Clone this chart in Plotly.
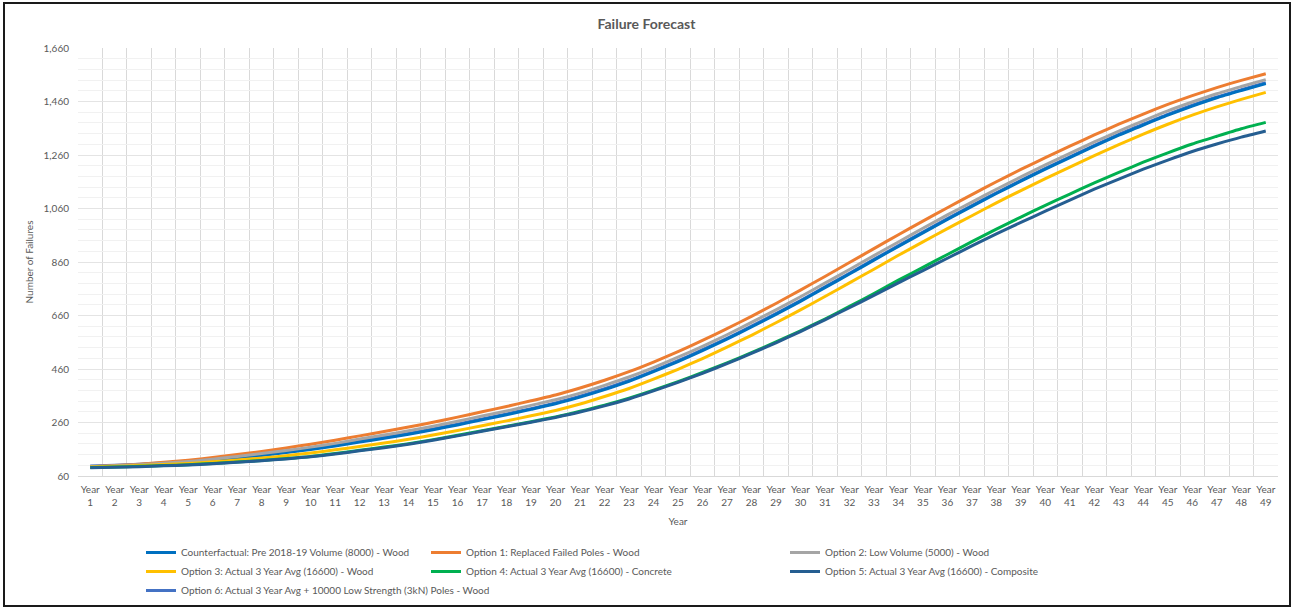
import plotly.graph_objects as go

# ---- data -------------------------------------------------------------
years = list(range(1, 50))
year_labels = [f"Year<br>{y}" for y in years]

counterfactual = [
    94, 97, 101, 106, 111, 119, 128, 137, 148, 159,
    172, 187, 201, 216, 233, 251, 270, 289, 309, 330,
    355, 383, 414, 450, 488, 529, 572, 617, 664, 713,
    764, 815, 867, 918, 969, 1019, 1068, 1116, 1162, 1207,
    1250, 1293, 1334, 1372, 1409, 1443, 1474, 1501, 1527,
]
option1 = [
    95, 99, 104, 111, 119, 129, 140, 152, 165, 179,
    194, 210, 226, 243, 261, 280, 300, 320, 341, 363,
    389, 418, 450, 486, 525, 567, 611, 657, 705, 755,
    806, 858, 910, 962, 1013, 1063, 1112, 1160, 1206, 1250,
    1293, 1335, 1375, 1413, 1449, 1482, 1512, 1539, 1564,
]
option2 = [
    95, 98, 102, 108, 114, 123, 133, 144, 155, 168,
    182, 198, 213, 229, 246, 265, 284, 303, 324, 345,
    370, 399, 430, 465, 504, 545, 588, 634, 681, 730,
    781, 832, 884, 935, 986, 1036, 1084, 1132, 1178, 1223,
    1266, 1309, 1349, 1388, 1425, 1458, 1489, 1516, 1542,
]
option3 = [
    94, 96, 99, 103, 107, 113, 120, 127, 136, 146,
    158, 170, 183, 197, 213, 230, 248, 266, 285, 305,
    329, 357, 387, 422, 459, 499, 542, 586, 633, 681,
    731, 782, 833, 885, 935, 985, 1033, 1081, 1127, 1172,
    1215, 1258, 1299, 1338, 1375, 1409, 1440, 1468, 1494,
]
option4 = [
    92, 94, 96, 99, 102, 107, 112, 118, 125, 133,
    144, 156, 168, 181, 196, 212, 229, 246, 263, 281,
    302, 325, 351, 381, 413, 447, 483, 521, 561, 603,
    647, 694, 742, 792, 840, 888, 936, 983, 1028, 1072,
    1114, 1156, 1195, 1233, 1268, 1301, 1330, 1358, 1382,
]
option5 = [
    91, 93, 95, 98, 101, 106, 111, 117, 124, 132,
    142, 154, 166, 179, 194, 210, 227, 244, 261, 279,
    299, 322, 348, 378, 410, 444, 480, 518, 558, 600,
    644, 689, 735, 782, 828, 874, 920, 965, 1008, 1050,
    1091, 1132, 1170, 1207, 1241, 1273, 1301, 1327, 1350,
]
option6 = [
    97, 100, 104, 109, 114, 122, 131, 140, 151, 162,
    175, 190, 204, 219, 236, 254, 273, 292, 312, 333,
    358, 386, 417, 453, 491, 532, 575, 620, 667, 716,
    767, 818, 870, 921, 972, 1022, 1071, 1119, 1165, 1210,
    1253, 1296, 1337, 1375, 1412, 1446, 1477, 1504, 1530,
]

# name, values, colour, legend column, order inside legend column
series = [
    ("Option 6: Actual 3 Year Avg + 10000 Low Strength (3kN) Poles - Wood", option6, "#4472C4", "legend", 3),
    ("Counterfactual: Pre 2018-19 Volume (8000) - Wood", counterfactual, "#0070C0", "legend", 1),
    ("Option 1: Replaced Failed Poles - Wood", option1, "#ED7D31", "legend2", 1),
    ("Option 2: Low Volume (5000) - Wood", option2, "#A5A5A5", "legend3", 1),
    ("Option 3: Actual 3 Year Avg (16600) - Wood", option3, "#FFC000", "legend", 2),
    ("Option 4: Actual 3 Year Avg (16600) - Concrete", option4, "#00B050", "legend2", 2),
    ("Option 5: Actual 3 Year Avg (16600) - Composite", option5, "#255E91", "legend3", 2),
]

y_ticks = [60, 260, 460, 660, 860, 1060, 1260, 1460, 1660]

TEXT = "#595959"
FONT = "Lato"

fig = go.Figure()
for name, vals, colour, leg, rank in series:
    fig.add_trace(go.Scatter(
        x=years, y=vals, name=name, mode="lines",
        line=dict(color=colour, width=3, shape="spline", smoothing=0.6),
        legend=leg, legendrank=rank,
    ))

# plot area: x 78..1278, y 48..476
W, H = 1293, 608
L, R, T, B = 78, 15, 48, 132
pw, ph = W - L - R, H - T - B


def px_x(p):
    return (p - L) / pw


def px_y(p):
    return (H - B - p) / ph


def cont_y(p):
    return 1 - p / H


legend_common = dict(
    orientation="v", yanchor="top", xanchor="left", yref="container",
    font=dict(family=FONT, size=10, color=TEXT),
    bgcolor="rgba(0,0,0,0)", itemwidth=30, tracegroupgap=0,
)

fig.update_layout(
    width=W, height=H,
    margin=dict(l=L, r=R, t=T, b=B, autoexpand=False),
    paper_bgcolor="white", plot_bgcolor="white",
    font=dict(family=FONT, size=10, color=TEXT),
    title=dict(text="<b>Failure Forecast</b>", x=0.5, xanchor="center",
               y=1 - 24 / H, yanchor="middle", yref="container",
               font=dict(family=FONT, size=14, color=TEXT)),
    legend=dict(x=px_x(141), y=cont_y(538), **legend_common),
    legend2=dict(x=px_x(426), y=cont_y(538), **legend_common),
    legend3=dict(x=px_x(785), y=cont_y(538), **legend_common),
    showlegend=True,
    shapes=[dict(type="rect", xref="paper", yref="paper",
                 x0=px_x(4), x1=px_x(1290), y0=px_y(606), y1=px_y(3),
                 line=dict(color="#1a1a1a", width=2), layer="above")],
)

boundaries = [y - 0.5 for y in years] + [years[-1] + 0.5]

fig.update_xaxes(
    range=[years[0] - 0.5, years[-1] + 0.5], automargin=False,
    tickmode="array", tickvals=years, ticktext=year_labels,
    showgrid=False, ticks="", zeroline=False,
    showline=True, linecolor="#d9d9d9", linewidth=1,
    tickfont=dict(family=FONT, size=10, color=TEXT),
    ticklabelstandoff=4,
    minor=dict(tickmode="array", tickvals=boundaries, showgrid=True,
               gridcolor="#d9d9d9", gridwidth=1, ticks=""),
    title=dict(text="Year", font=dict(family=FONT, size=10, color=TEXT), standoff=10),
)
fig.update_yaxes(
    range=[y_ticks[0], y_ticks[-1]], automargin=False,
    tickmode="array", tickvals=y_ticks, tickformat=",",
    showgrid=True, gridcolor="#e4e4e4", gridwidth=1, zeroline=False,
    showline=False, ticks="",
    tickfont=dict(family=FONT, size=10, color=TEXT),
    ticklabelstandoff=8,
    minor=dict(dtick=40, tick0=60, showgrid=True, gridcolor="#f1f1f1", gridwidth=1, ticks=""),
    title=dict(text="Number of Failures", font=dict(family=FONT, size=10, color=TEXT), standoff=8),
)

fig.write_html("out.html")
